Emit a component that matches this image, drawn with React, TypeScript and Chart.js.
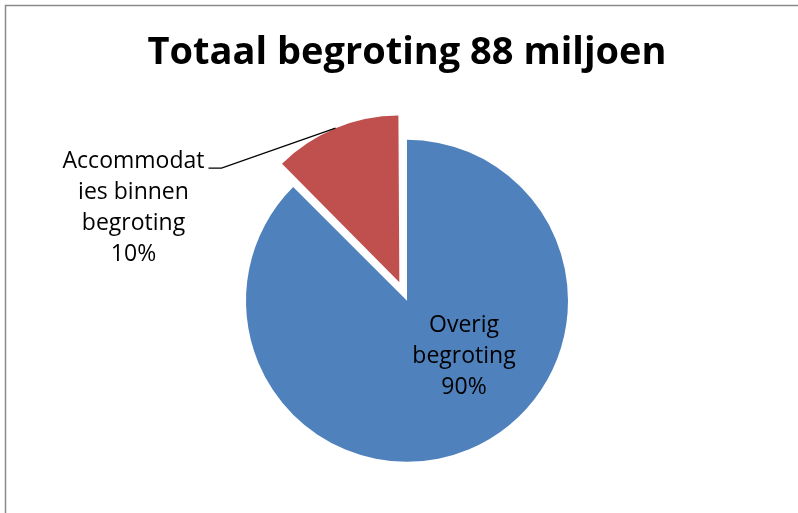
import React, { useEffect, useRef } from "react";
import { Chart, registerables } from "chart.js";

Chart.register(...registerables);

// ---- data ----
const TITLE = "Totaal begroting 88 miljoen";
const categories = ["Overig begroting", "Accommodaties binnen begroting"];
const values = [77, 11]; // miljoen (totaal 88)
const labelLines = [
  ["Overig", "begroting", "90%"],
  ["Accommodat", "ies binnen", "begroting", "10%"],
];
const colors = ["#4F81BD", "#C0504D"];
const explode = [0, 80];

const FONT = "'Open Sans', 'DejaVu Sans', sans-serif";

// same shift Chart.js's ArcElement applies for an "offset"
function arcShift(arc: any) {
  const off = (arc.options.offset || 0) / 4;
  const fix = 1 - Math.sin(Math.min(Math.PI, arc.circumference || 0));
  return off * (1 + fix);
}

const framePlugin = {
  id: "frame",
  beforeDraw(chart: any) {
    const ctx = chart.ctx;
    ctx.save();
    ctx.fillStyle = "#ffffff";
    ctx.fillRect(0, 0, chart.width, chart.height);
    ctx.strokeStyle = "#8a8a8a";
    ctx.lineWidth = 1.5;
    ctx.beginPath();
    ctx.moveTo(5.5, chart.height);
    ctx.lineTo(5.5, 5.5);
    ctx.lineTo(chart.width, 5.5);
    ctx.stroke();
    ctx.restore();
  },
};

const labelPlugin = {
  id: "sliceLabels",
  afterDatasetsDraw(chart: any) {
    const ctx = chart.ctx;
    const meta = chart.getDatasetMeta(0);
    const lh = 31;
    ctx.save();
    ctx.font = `23px ${FONT}`;
    ctx.textAlign = "center";
    ctx.textBaseline = "middle";
    ctx.fillStyle = "#000000";

    const drawBlock = (lines: string[], cx: number, cy: number) => {
      const n = lines.length;
      lines.forEach((t, i) => {
        ctx.fillText(t, cx, cy + (i - (n - 1) / 2) * lh);
      });
    };

    // slice 0: label inside
    const a0: any = meta.data[0];
    const r0 = a0.outerRadius;
    drawBlock(labelLines[0], a0.x + r0 * 0.354, a0.y + r0 * 0.348);

    // slice 1: label outside with leader line
    const a1: any = meta.data[1];
    const shift = arcShift(a1);
    const mid = (a1.startAngle + a1.endAngle) / 2;
    const ocx = a1.x + Math.cos(mid) * shift;
    const ocy = a1.y + Math.sin(mid) * shift;
    const px = ocx + Math.cos(mid) * a1.outerRadius;
    const py = ocy + Math.sin(mid) * a1.outerRadius;
    const ex = px - 114;
    const ey = py + 40;
    const lx = ex - 13;
    ctx.strokeStyle = "#000000";
    ctx.lineWidth = 1.2;
    ctx.beginPath();
    ctx.moveTo(px, py);
    ctx.lineTo(ex, ey);
    ctx.lineTo(lx, ey);
    ctx.stroke();
    drawBlock(labelLines[1], lx - 75, ey + 40);
    ctx.restore();
  },
};

export default function App() {
  const ref = useRef<HTMLCanvasElement | null>(null);

  useEffect(() => {
    document.body.style.margin = "0";
    const canvas = ref.current;
    if (!canvas) return;
    const chart = new Chart(canvas, {
      type: "pie",
      data: {
        labels: categories,
        datasets: [
          {
            data: values,
            backgroundColor: colors,
            borderWidth: 0,
            borderColor: colors,
            offset: explode,
          } as any,
        ],
      },
      options: {
        animation: false,
        responsive: true,
        maintainAspectRatio: false,
        radius: 161,
        layout: { padding: { left: 16, right: 0, top: 0, bottom: 10 } },
        plugins: {
          legend: { display: false },
          tooltip: { enabled: false },
          title: {
            display: true,
            text: TITLE,
            color: "#000000",
            font: { family: FONT, size: 38, weight: "bold", lineHeight: 1.2 },
            padding: { top: 30, bottom: 23 },
          },
        },
      } as any,
      plugins: [framePlugin, labelPlugin],
    });
    return () => chart.destroy();
  }, []);

  return (
    <div style={{ position: "fixed", left: 0, top: 0, width: 798, height: 513 }}>
      <canvas ref={ref} />
    </div>
  );
}
